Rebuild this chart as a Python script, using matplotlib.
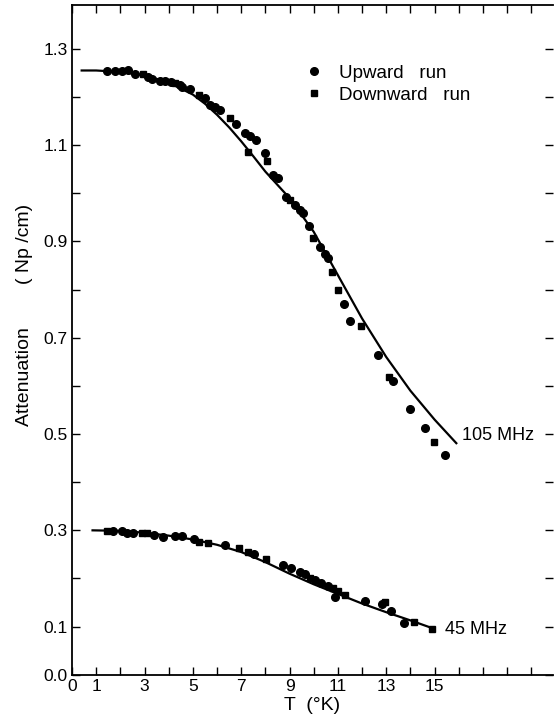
import matplotlib.pyplot as plt

# fitted curves
t_fit_105 = [0.4, 1, 2, 3, 4, 5, 5.5, 6, 6.5, 7, 7.5, 8, 9, 10, 11, 12, 13,
             14, 15, 15.9]
a_fit_105 = [1.255, 1.255, 1.252, 1.245, 1.230, 1.205, 1.186, 1.163, 1.137,
             1.108, 1.077, 1.045, 0.99, 0.92, 0.83, 0.74, 0.66, 0.59, 0.53,
             0.481]
t_fit_45 = [0.85, 2, 3, 4, 5, 6, 7, 8, 9, 10, 11, 12, 13, 14, 14.9]
a_fit_45 = [0.300, 0.299, 0.295, 0.289, 0.281, 0.270, 0.255, 0.234, 0.210,
            0.188, 0.168, 0.148, 0.130, 0.113, 0.097]

# 105 MHz data
t_up_105 = [1.46, 1.78, 2.05, 2.33, 2.6, 3.15, 3.33, 3.64, 3.84, 4.08, 4.46,
            4.57, 4.9, 5.5, 5.7, 5.9, 6.12, 6.8, 7.15, 7.38, 7.6, 7.98, 8.32,
            8.53, 8.87, 9.21, 9.42, 9.56, 9.81, 10.25, 10.45, 10.59, 11.24,
            11.49, 12.66, 13.28, 14.0, 14.61, 15.45]
a_up_105 = [1.253, 1.254, 1.253, 1.255, 1.248, 1.242, 1.237, 1.234, 1.233,
            1.232, 1.225, 1.221, 1.216, 1.197, 1.183, 1.179, 1.173, 1.144,
            1.125, 1.118, 1.111, 1.084, 1.038, 1.031, 0.993, 0.976, 0.965,
            0.958, 0.932, 0.889, 0.874, 0.865, 0.770, 0.735, 0.664, 0.611,
            0.553, 0.512, 0.456]
t_dn_105 = [2.95, 4.26, 5.26, 6.53, 7.29, 8.07, 9.0, 9.95, 10.77, 11.0,
            11.97, 13.11, 14.96]
a_dn_105 = [1.248, 1.228, 1.204, 1.156, 1.086, 1.066, 0.986, 0.907, 0.837,
            0.800, 0.724, 0.618, 0.484]

# 45 MHz data
t_up_45 = [1.71, 2.05, 2.26, 2.53, 3.39, 3.77, 4.26, 4.57, 5.04, 6.32, 7.52,
           8.73, 9.08, 9.42, 9.63, 10.04, 10.32, 10.59, 10.9, 12.11, 12.84,
           13.21, 13.72]
a_up_45 = [0.299, 0.299, 0.295, 0.294, 0.290, 0.287, 0.288, 0.288, 0.283,
           0.270, 0.251, 0.228, 0.221, 0.214, 0.209, 0.197, 0.191, 0.184,
           0.161, 0.153, 0.147, 0.1325, 0.108]
t_dn_45 = [1.43, 2.88, 3.09, 5.26, 5.63, 6.91, 7.29, 8.02, 9.83, 10.8, 11.0,
           11.28, 12.93, 14.13, 14.9]
a_dn_45 = [0.2987, 0.294, 0.294, 0.276, 0.274, 0.263, 0.256, 0.240, 0.202,
           0.180, 0.175, 0.166, 0.152, 0.110, 0.0957]

xtick_pos = list(range(0, 20))
xtick_lab = ['0', '1', '', '3', '', '5', '', '7', '', '9', '', '11', '', '13',
             '', '15', '', '', '', '']
ytick_pos = [0.0, 0.1, 0.2, 0.3, 0.4, 0.5, 0.6, 0.7, 0.8, 0.9, 1.0, 1.1, 1.2, 1.3]
ytick_lab = ['0.0', '0.1', '', '0.3', '', '0.5', '', '0.7', '', '0.9', '',
             '1.1', '', '1.3']

plt.rcParams['font.family'] = ['Liberation Sans', 'DejaVu Sans']

fig = plt.figure(figsize=(5.55, 7.21), dpi=100)
ax = fig.add_axes([72 / 555, 1 - 674.8 / 721, 481 / 555, 669.8 / 721])

ax.plot(t_fit_105, a_fit_105, color='black', lw=1.6)
ax.plot(t_fit_45, a_fit_45, color='black', lw=1.6)
ax.plot(t_up_105, a_up_105, 'o', color='black', ms=5.5, label='Upward   run')
ax.plot(t_dn_105, a_dn_105, 's', color='black', ms=5, label='Downward   run')
ax.plot(t_up_45, a_up_45, 'o', color='black', ms=5.5)
ax.plot(t_dn_45, a_dn_45, 's', color='black', ms=5)

ax.set_xlim(0, 19.9)
ax.set_ylim(0, 1.391)
ax.set_xticks(xtick_pos)
ax.set_xticklabels(xtick_lab)
ax.set_yticks(ytick_pos)
ax.set_yticklabels(ytick_lab)
ax.tick_params(direction='in', length=6, width=1, labelsize=12.5,
               top=True, right=True, pad=3)
ax.spines['right'].set_visible(False)
for s in ['left', 'bottom', 'top']:
    ax.spines[s].set_linewidth(1.3)

ax.text(16.13, 0.496, '105 MHz', fontsize=13, va='center', ha='left')
ax.text(15.43, 0.095, '45 MHz', fontsize=13, va='center', ha='left')

ax.legend(loc='upper left', bbox_to_anchor=(0.465, 0.925), frameon=False,
          fontsize=13.5, handlelength=1, handletextpad=0.8, borderpad=0,
          labelspacing=0.25)

ax.set_xlabel('T  (°K)', fontsize=14, labelpad=2)
fig.text(25 / 555, 1 - 315 / 721, 'Attenuation        ( Np /cm)', fontsize=14,
         rotation=90, ha='center', va='center')

fig.savefig('out.png', dpi=100)
